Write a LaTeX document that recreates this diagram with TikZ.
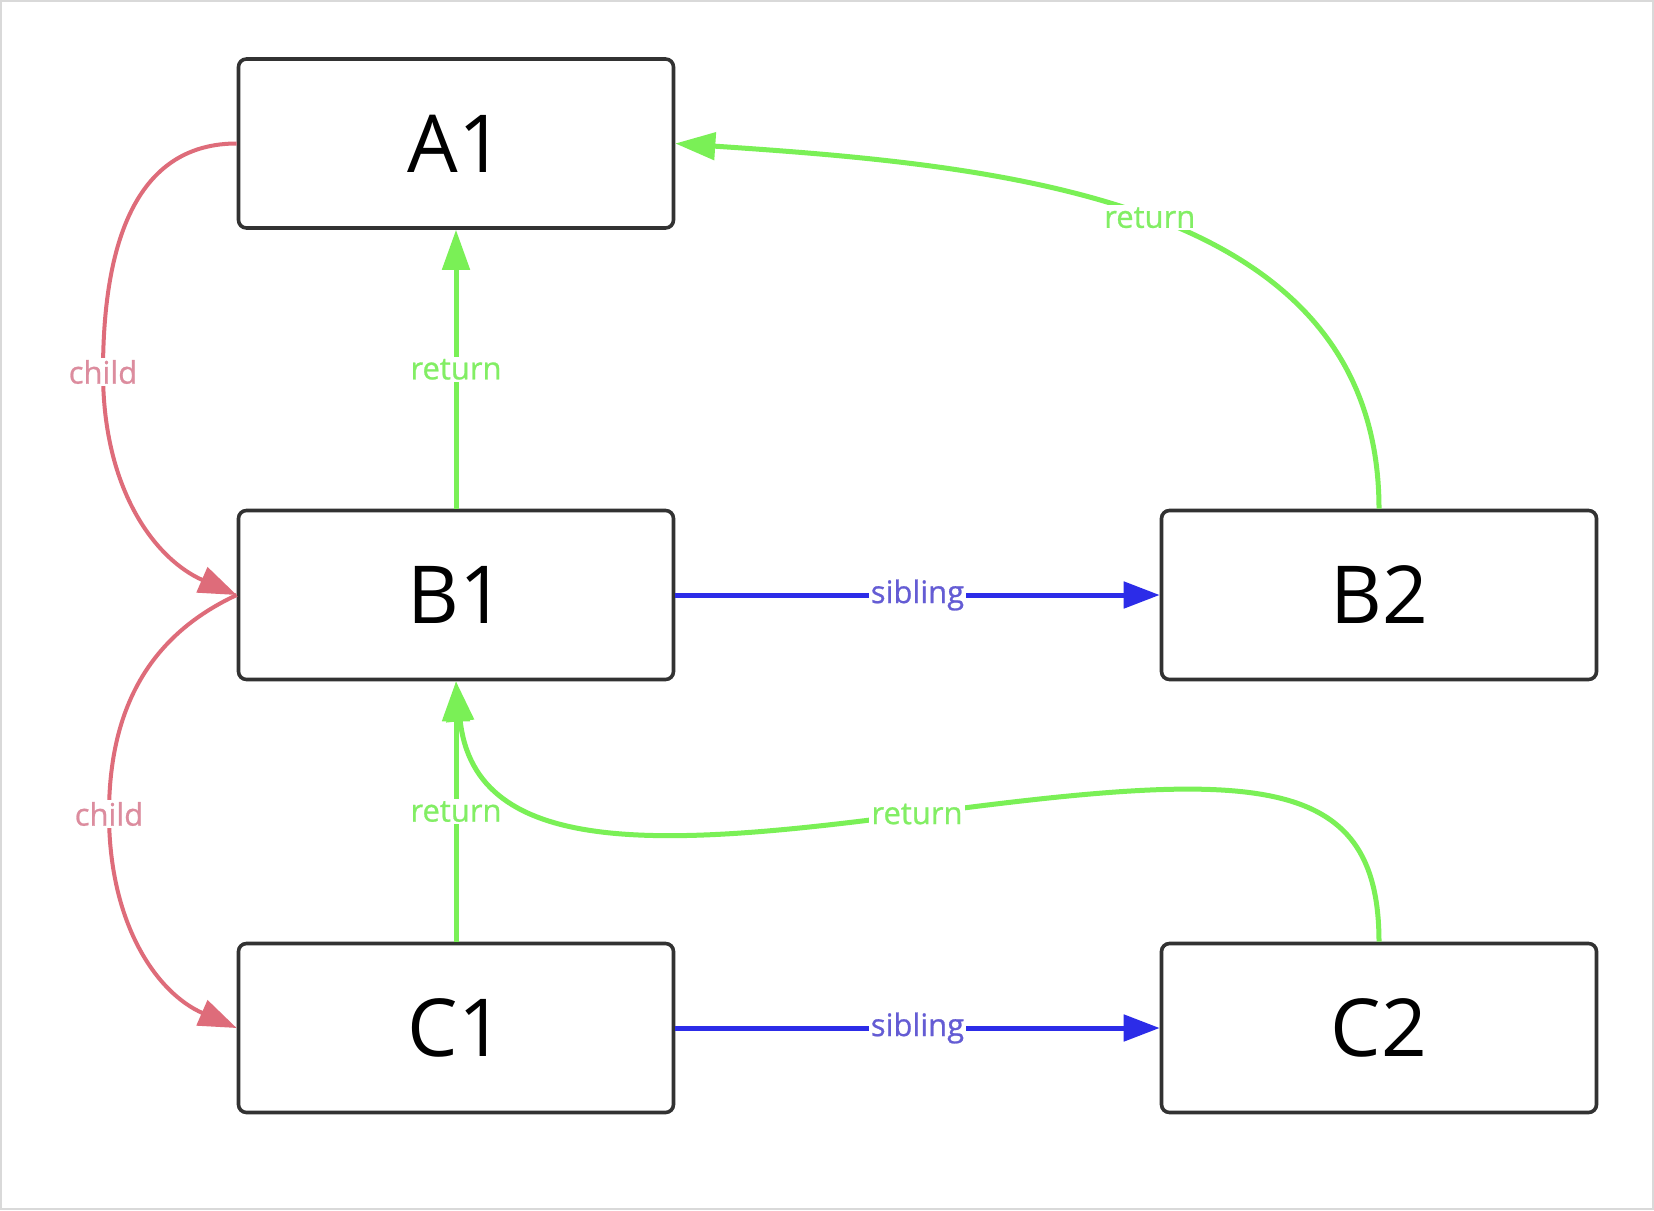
\documentclass[tikz,border=0pt]{standalone}
\usepackage{fontspec}
\setmainfont{Open Sans}
\newfontfamily\lblfont[FakeBold=0.8]{Open Sans}
\usetikzlibrary{arrows.meta}
\definecolor{boxline}{RGB}{50,50,50}
\definecolor{retgreen}{RGB}{122,240,86}
\definecolor{retlabel}{RGB}{130,238,100}
\definecolor{sibblue}{RGB}{44,44,232}
\definecolor{siblabel}{RGB}{100,92,212}
\definecolor{childred}{RGB}{222,108,122}
\definecolor{childlabel}{RGB}{220,140,158}
\begin{document}
\begin{tikzpicture}[x=1pt,y=-1pt,
  box/.style={draw=boxline,line width=3.6pt,rounded corners=8pt,minimum width=435pt,minimum height=169pt,inner sep=0pt,font=\fontsize{80}{80}\selectfont},
  lbl/.style={fill=white,inner sep=2pt,font=\lblfont\fontsize{31}{31}\selectfont},
  retline/.style={draw=retgreen,line width=5pt,-{Triangle[length=40pt,width=27pt]}},
  sibline/.style={draw=sibblue,line width=5pt,-{Triangle[length=36pt,width=26pt]}},
  childline/.style={draw=childred,line width=4pt,-{Triangle[length=38pt,width=27pt]}},
  retlbl/.style={lbl,text=retlabel},
  siblbl/.style={lbl,text=siblabel},
  childlbl/.style={lbl,text=childlabel}]
\useasboundingbox (0,0) rectangle (1654,1210);
\fill[white] (0,0) rectangle (1654,1210);
\draw[black!15,line width=2pt] (1,1) rectangle (1653,1209);

\node[box] (A1) at (456,143.5) {A1};
\node[box] (B1) at (456,595) {B1};
\node[box] (B2) at (1379,595) {B2};
\node[box] (C1) at (456,1028) {C1};
\node[box] (C2) at (1379,1028) {C2};

% child links
\coordinate (cA) at (103,372);
\coordinate (cB) at (109,814);
\draw[childline] (A1.west) .. controls +(-95,0) and +(0,-140) .. (cA) .. controls +(0,120) and +(-80,-35) .. (B1.west);
\node[childlbl] at (cA) {child};
\draw[childline] (B1.west) .. controls +(-75,35) and +(0,-120) .. (cB) .. controls +(0,110) and +(-80,-35) .. (C1.west);
\node[childlbl] at (cB) {child};

% sibling links
\draw[sibline] (B1.east) -- node[siblbl] {sibling} (B2.west);
\draw[sibline] (C1.east) -- node[siblbl] {sibling} (C2.west);

% return links
\draw[retline] (B1.north) -- node[retlbl] {return} (A1.south);
\draw[retline] (C1.north) -- node[retlbl] {return} (B1.south);
\draw[retline] (B2.north) .. controls +(0,-311) and +(327,22) .. node[retlbl,pos=0.5] {return} (A1.east);
\coordinate (rm) at (917,814);
\draw[retline] (C2.north) .. controls +(0,-173) and (1250,770) .. (rm) .. controls (667,847) and (475,860) .. (B1.south);
\node[retlbl] at (rm) {return};
\end{tikzpicture}
\end{document}
